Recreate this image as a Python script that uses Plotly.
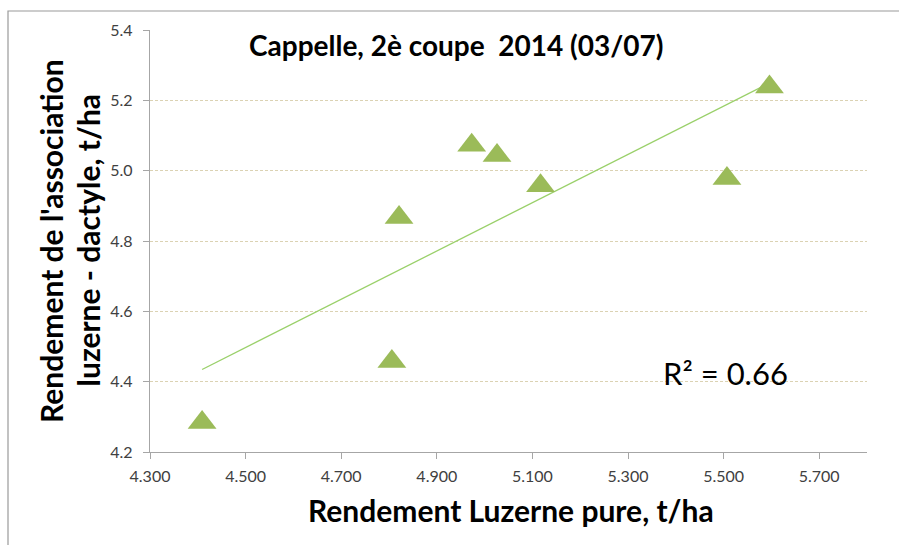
import numpy as np
import plotly.graph_objects as go

# Data
luzerne_pure = [4.409, 4.806, 4.821, 4.973, 5.026, 5.117, 5.507, 5.596]
association = [4.284, 4.457, 4.867, 5.072, 5.043, 4.957, 4.978, 5.238]

x_ticks = [4.3, 4.5, 4.7, 4.9, 5.1, 5.3, 5.5, 5.7]
x_ticklabels = ["4.300", "4.500", "4.700", "4.900", "5.100", "5.300", "5.500", "5.700"]
y_ticks = [4.2, 4.4, 4.6, 4.8, 5.0, 5.2, 5.4]
y_ticklabels = ["4.2", "4.4", "4.6", "4.8", "5.0", "5.2", "5.4"]

title_text = "Cappelle, 2è coupe\u00a0 2014 (03/07)"
x_title = "Rendement Luzerne pure, t/ha"
y_title_1 = "Rendement de l'association"
y_title_2 = "luzerne - dactyle, t/ha"
r2_text = "R² = 0.66"

# Linear trend line (least squares fit of the data)
xa = np.array(luzerne_pure)
ya = np.array(association)
slope, intercept = np.polyfit(xa, ya, 1)
trend_x = [xa.min(), xa.max()]
trend_y = [slope * v + intercept for v in trend_x]

W, H = 899, 545
L, R, T, B = 150, 32, 30, 93
pw, ph = W - L - R, H - T - B

def px(xp):
    return (xp - L) / pw

def py(yp):
    return (H - B - yp) / ph

FONT = "Lato, 'Open Sans', sans-serif"

def ann(text, x, y, size, angle=0, bold=False):
    return dict(text=("<b>" + text + "</b>") if bold else text,
                xref="paper", yref="paper", x=px(x), y=py(y),
                xanchor="center", yanchor="middle", showarrow=False,
                textangle=angle,
                font=dict(size=size, color="black", family=FONT))

fig = go.Figure()
fig.add_trace(go.Scatter(
    x=trend_x, y=trend_y, mode="lines",
    line=dict(color="#9ad06a", width=1.3),
    hoverinfo="skip", showlegend=False))
fig.add_trace(go.Scatter(
    x=luzerne_pure, y=association, mode="markers",
    marker=dict(symbol="triangle-up", size=25, color="#9bbb59",
                line=dict(width=0)),
    showlegend=False))

fig.update_layout(
    width=W, height=H,
    margin=dict(l=L, r=R, t=T, b=B),
    paper_bgcolor="white", plot_bgcolor="white",
    font=dict(family=FONT, color="#404040"),
    xaxis=dict(range=[4.3, 5.8], tickvals=x_ticks, ticktext=x_ticklabels,
               showgrid=False, zeroline=False,
               showline=True, linecolor="#a6a6a6", linewidth=1.3,
               ticks="outside", ticklen=6, tickcolor="#a6a6a6",
               ticklabelstandoff=4,
               tickfont=dict(size=16, color="#404040", family=FONT)),
    yaxis=dict(range=[4.2, 5.4], tickvals=y_ticks, ticktext=y_ticklabels,
               showgrid=True, gridcolor="#dbd2b3", griddash="3px,2px", gridwidth=1,
               zeroline=False,
               showline=True, linecolor="#a6a6a6", linewidth=1.3,
               ticks="outside", ticklen=6, tickcolor="#a6a6a6",
               ticklabelstandoff=7,
               tickfont=dict(size=16, color="#404040", family=FONT)),
    shapes=[dict(type="rect", xref="paper", yref="paper",
                 x0=px(8), x1=px(910), y0=py(560), y1=py(11),
                 line=dict(color="#9a9a9a", width=1.2), layer="below")],
    annotations=[
        ann(title_text, 456, 45, 28, bold=True),
        ann(r2_text, 725, 373, 31),
        ann(x_title, 511, 510, 30, bold=True),
        ann(y_title_1, 51, 241, 30, angle=-90, bold=True),
        ann(y_title_2, 87.5, 240, 30, angle=-90, bold=True),
    ],
)

fig.write_html("out.html", config={"displayModeBar": False},
               post_script="document.body.style.margin='0';")
